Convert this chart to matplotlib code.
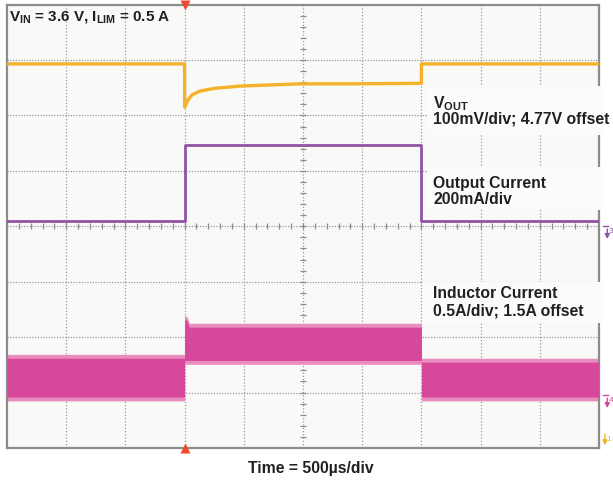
import matplotlib
matplotlib.use('Agg')
import matplotlib.pyplot as plt
from matplotlib.patches import Rectangle

plt.rcParams['font.family'] = ['Liberation Sans', 'DejaVu Sans']
plt.rcParams['mathtext.fontset'] = 'custom'
plt.rcParams['mathtext.bf'] = 'Liberation Sans:bold'
plt.rcParams['mathtext.rm'] = 'Liberation Sans:bold'
plt.rcParams['mathtext.default'] = 'bf'

# ── scope traces (time in µs, amplitude in screen divisions from bottom) ──
vout_t = [0, 1500, 1500, 1529, 1562, 1630, 1757, 1968, 2221, 2475, 2897, 3500, 3500, 5000]
vout_y = [6.93, 6.93, 6.15, 6.28, 6.37, 6.44, 6.49, 6.53, 6.55, 6.57, 6.57, 6.58, 6.93, 6.93]

iout_t = [0, 1500, 1500, 3500, 3500, 5000]
iout_y = [4.09, 4.09, 5.47, 5.47, 4.09, 4.09]

# inductor current ripple envelope (top / bottom of the band)
il_t      = [0, 1500, 1500, 1520, 1540, 3500, 3500, 5000]
il_top    = [1.62, 1.62, 2.32, 2.30, 2.18, 2.18, 1.55, 1.55]
il_bottom = [0.92, 0.92, 1.58, 1.58, 1.58, 1.58, 0.92, 0.92]

YELLOW = '#f6b12a'
PURPLE = '#9053a6'
PINK   = '#d8489a'
PINK_L = '#e98cbf'
GRIDC  = '#9a9a9a'
TXT    = '#231f20'

fig = plt.figure(figsize=(6.13, 4.8), dpi=100)
ax = fig.add_axes([7/613, (480-448)/480, 592/613, 443.4/480])
ax.set_facecolor('#f9f9f7')
ax.set_xlim(0, 10)
ax.set_ylim(0, 8)
ax.set_xticks([]); ax.set_yticks([])
for s in ax.spines.values():
    s.set_color('#8c8c8c'); s.set_linewidth(1.6)

# grid
for i in range(1, 10):
    ax.axvline(i, color=GRIDC, lw=0.9, ls=(0, (1, 1.6)), zorder=1)
for j in range(1, 8):
    ax.axhline(j, color=GRIDC, lw=0.9, ls=(0, (1, 1.2)), zorder=1)
# centre-axis minor ticks
ax.plot([k*0.2 for k in range(1, 50)], [4]*49, ls='none', marker='|',
        ms=4.5, mew=0.9, color='#8c8c8c', zorder=1)
ax.plot([5]*39, [k*0.2 for k in range(1, 40)], ls='none', marker='_',
        ms=4.5, mew=0.9, color='#8c8c8c', zorder=1)

to_div = lambda ts: [t / 500 for t in ts]

# traces
ax.fill_between(to_div(il_t), [b - 0.07 for b in il_bottom], [t + 0.07 for t in il_top],
                color=PINK_L, lw=0, zorder=2)
ax.fill_between(to_div(il_t), il_bottom, il_top, color=PINK, lw=0, zorder=3)
ax.plot(to_div(iout_t), iout_y, color=PURPLE, lw=2.0, zorder=4)
ax.plot(to_div(vout_t), vout_y, color=YELLOW, lw=2.4, zorder=4)

# label boxes
for (x0, y0, w, h) in [(7.09, 5.65, 3.0, 0.88), (7.09, 4.29, 3.0, 0.78), (7.03, 2.25, 3.06, 0.74)]:
    ax.add_patch(Rectangle((x0, y0), w, h, facecolor='#fbfbfa', edgecolor='none',
                           zorder=6, clip_on=False))

kw = dict(fontsize=11.3, fontweight='bold', color=TXT, zorder=7, va='center', ha='left')
ax.text(7.2, 6.22, r'V$_{OUT}$', **kw)
ax.text(7.2, 5.93, '100mV/div; 4.77V offset', **kw)
ax.text(7.2, 4.78, 'Output Current', **kw)
ax.text(7.2, 4.49, '200mA/div', **kw)
ax.text(7.2, 2.78, 'Inductor Current', **kw)
ax.text(7.2, 2.47, '0.5A/div; 1.5A offset', **kw)

ax.text(0.03, 7.78, r'V$_{IN}$ = 3.6 V, I$_{LIM}$ = 0.5 A', fontsize=11,
        fontweight='bold', color=TXT, va='center', ha='left', zorder=7)

# trigger markers
ax.plot([3], [8], marker='v', ms=7, color='#f0482c', clip_on=False, zorder=8, mec='none')
ax.plot([3], [0], marker='^', ms=7, color='#f0482c', clip_on=False, zorder=8, mec='none')

# channel ground markers on right
for yv, c, lab in [(4.0, PURPLE, '3'), (0.95, PINK, '4')]:
    ax.plot([10.07, 10.15], [yv, yv], color=c, lw=1.0, clip_on=False)
    ax.annotate('', xy=(10.14, yv - 0.28), xytext=(10.14, yv), annotation_clip=False,
                arrowprops=dict(arrowstyle='-|>', color=c, lw=1.0, mutation_scale=7))
    ax.text(10.16, yv - 0.1, lab, color=c, fontsize=6, va='center', ha='left', clip_on=False)
ax.annotate('', xy=(10.1, 0.0), xytext=(10.1, 0.3), annotation_clip=False,
            arrowprops=dict(arrowstyle='-|>', color=YELLOW, lw=1.0, mutation_scale=7))
ax.text(10.13, 0.15, '1', color=YELLOW, fontsize=6, va='center', ha='left', clip_on=False)

fig.text(311/613, 1 - 469/480, 'Time = 500µs/div', fontsize=11.3, fontweight='bold',
         color=TXT, ha='center', va='center')

fig.savefig('out.png', dpi=100, facecolor='white')
